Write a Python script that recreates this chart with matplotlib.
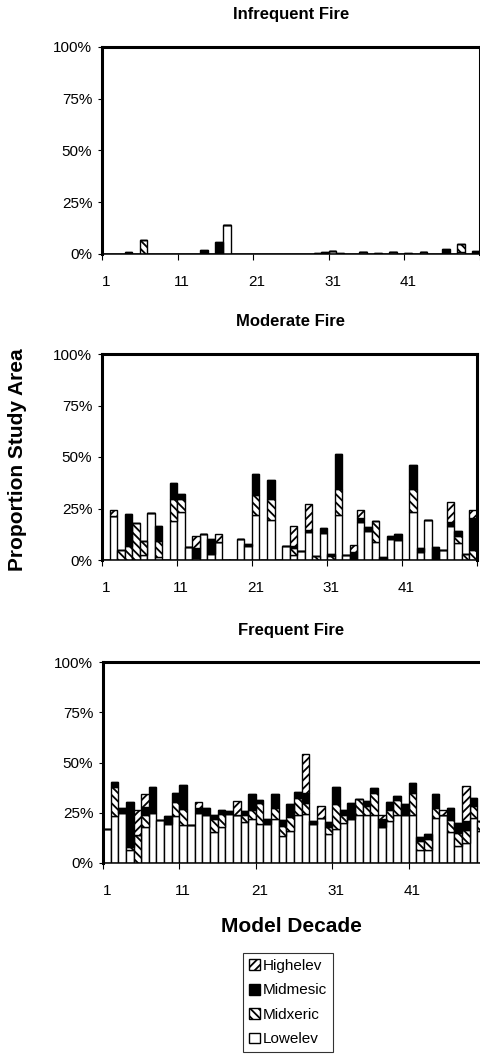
import matplotlib
matplotlib.use("Agg")
import matplotlib.pyplot as plt
from matplotlib.patches import Patch
import numpy as np

plt.rcParams['font.family'] = ['Liberation Sans', 'DejaVu Sans']
plt.rcParams['hatch.linewidth'] = 1.3

# model decades 1..50
decades = list(range(1, 51))
tick_labels = ['1', '11', '21', '31', '41']
y_ticks = [0, 25, 50, 75, 100]
y_labels = ['0%', '25%', '50%', '75%', '100%']
series = ['Lowelev', 'Midxeric', 'Midmesic', 'Highelev']
titles = ['Infrequent Fire', 'Moderate Fire', 'Frequent Fire']

# ---- Infrequent fire (percent of study area)
infreq_low = [0, 0, 0, 0, 0, 0, 0, 0, 0, 0, 0, 0, 0, 0, 0, 0, 14, 0, 0, 0,
              0, 0, 0, 0, 0, 0, 0, 0, 0, 0, 1.3, 0, 0, 0, 1.0, 0, 0, 0, 1.0, 0,
              0, 0, 1.0, 0, 0, 0, 0, 0.8, 0, 0]
infreq_midx = [0, 0, 0, 0, 0, 7, 0, 0, 0, 0, 0, 0, 0, 0, 0, 0, 0, 0, 0, 0,
               0, 0, 0, 0, 0, 0, 0, 0, 0, 0, 0, 0, 0, 0, 0, 0, 0, 0, 0, 0,
               0, 0, 0, 0, 0, 0, 0, 3.8, 0, 0]
infreq_midm = [0, 0, 0, 1.2, 0, 0, 0, 0, 0, 0, 0, 0, 0, 1.8, 0, 6, 0, 0, 0, 0,
               0, 0, 0, 0, 0, 0, 0, 0, 0.5, 0.8, 0.3, 0.5, 0, 0, 0, 0, 0.7, 0, 0, 0,
               0.7, 0, 0, 0, 0, 2.2, 0, 0, 0, 1.5]
infreq_high = [0] * 50

# ---- Moderate fire
mod_low = [0, 21.5, 0, 0, 0, 2.5, 23, 1.5, 0, 19, 23.3, 6.5, 1, 12.5, 3, 8.5, 0, 0, 10.4, 6.8,
           22, 0, 19.4, 0, 6.7, 2.5, 4.2, 13.5, 0, 13.3, 0, 21.8, 2.5, 0, 18.5, 14.2, 8.6, 0, 10.3, 9.7,
           0, 23.3, 4, 19.2, 0, 4.9, 16.3, 8.4, 0, 0]
mod_midx = [0, 0, 5, 7, 18, 6.5, 0, 7.5, 0, 10.5, 6.2, 0, 0, 0, 0, 0, 0, 0, 0, 0,
            9.5, 0, 10, 0, 0, 3.5, 0, 0, 2, 0, 2, 12.8, 0, 0, 0, 0, 10.5, 0, 0, 0,
            0, 11, 0, 0, 0, 0, 0, 3.4, 2.9, 4.8]
mod_midm = [0, 0, 0, 15.3, 0, 0, 0, 7.5, 0, 8, 2.5, 0, 5, 0, 7.2, 0, 0, 0, 0, 1,
            10.3, 0, 9.2, 0, 0, 1, 0, 1, 0, 2, 1, 16.8, 0, 3.7, 2, 1.6, 0, 1.3, 1.3, 2.9,
            0, 11.6, 1.8, 0, 6.4, 0, 2.3, 2.4, 0, 15.5]
mod_high = [0, 3, 0, 0, 0, 0, 0, 0, 0, 0, 0, 0, 5.5, 0, 0, 4, 0, 0, 0, 0,
            0, 0, 0, 0, 0, 9.5, 0, 12.5, 0, 0, 0, 0, 0, 3.5, 4, 0, 0, 0, 0, 0,
            0, 0, 0, 0, 0, 0, 9.5, 0, 0, 4]

# ---- Frequent fire
freq_low = [16.7, 23.3, 24.7, 6.7, 0, 18, 24.7, 21.3, 19.2, 23.3, 18.7, 18.7, 24.7, 23.7, 15.3, 17.8, 24.2, 23.7, 20.3, 21.7,
            19.2, 19.2, 21.7, 13.3, 15.8, 23.7, 24.2, 19.2, 22.2, 14.5, 17, 20, 21.7, 23.7, 23.7, 23.7, 18, 20.8, 23.7, 23.7,
            23.7, 6.3, 6.3, 22.2, 23.7, 15.3, 8.7, 10, 22.2, 15.8]
freq_midx = [0, 14.5, 0, 1.3, 14, 6, 0, 0, 0, 7, 8, 0, 0, 0, 6.7, 6.8, 0, 0, 3.8, 4.7,
             10.8, 0, 5.8, 5.3, 7.2, 8.8, 5.8, 0, 0, 3.5, 12.2, 3.7, 0, 8, 4.7, 11, 0, 5.8, 7.5, 0,
             11, 4.5, 5.7, 5, 0, 6.3, 6.3, 6.3, 6.2, 5]
freq_midm = [0, 2.5, 2.8, 22.3, 0, 4, 13.3, 0, 4.2, 4.3, 12, 0, 2.5, 3.8, 1.7, 2, 1.6, 0, 1.7, 7.8,
             1.2, 2.5, 7, 2.7, 6.2, 2.8, 4.7, 1.7, 0, 2.3, 8.7, 2.7, 8.3, 0, 2.2, 2.8, 3.7, 3.7, 2.2, 5.5,
             5.3, 2.2, 2.2, 7, 0, 5.8, 5, 4.5, 3.8, 0]
freq_high = [0, 0, 0, 0, 12.5, 6.5, 0, 0, 0, 0, 0, 0, 3, 0, 0, 0, 0, 7.2, 0, 0,
             0, 0, 0, 0, 0, 0, 19.5, 0, 6.2, 0, 0, 0, 0, 0, 0, 0, 2, 0, 0, 0,
             0, 0, 0, 0, 2.5, 0, 0, 17.5, 0, 0]

panels = [
    (infreq_low, infreq_midx, infreq_midm, infreq_high),
    (mod_low, mod_midx, mod_midm, mod_high),
    (freq_low, freq_midx, freq_midm, freq_high),
]

styles = {
    'Lowelev': dict(facecolor='white', hatch=None),
    'Midxeric': dict(facecolor='white', hatch='\\\\\\\\'),
    'Midmesic': dict(facecolor='black', hatch=None),
    'Highelev': dict(facecolor='white', hatch='////'),
}

W, H = 481, 1059
fig = plt.figure(figsize=(W / 100, H / 100), dpi=100)

def px_axes(l, t, r, b):
    return fig.add_axes([l / W, 1 - b / H, (r - l) / W, (b - t) / H])

# pixel boxes of the three plot areas (left, top, right, bottom)
boxes = [(102, 47, 480, 254), (102, 354, 477, 560), (103, 662, 485, 863)]
title_y = [14, 322, 630]

for i, (vals, box) in enumerate(zip(panels, boxes)):
    ax = px_axes(*box)
    bottom = np.zeros(len(decades))
    for name, v in zip(series, vals):
        v = np.array(v, dtype=float)
        ax.bar(decades, v, width=1.0, bottom=bottom, edgecolor='black',
               linewidth=1.0, **styles[name])
        bottom += v
    ax.set_xlim(0.5, 50.5)
    ax.set_ylim(0, 100)
    ax.set_yticks(y_ticks)
    ax.set_yticklabels(y_labels, fontsize=11)
    ax.set_xticks([1, 11, 21, 31, 41])
    ax.set_xticklabels(tick_labels, fontsize=11)
    ax.set_xticks([0.5, 10.5, 20.5, 30.5, 40.5, 50.5], minor=True)
    ax.tick_params(axis='x', which='major', length=0, pad=15)
    ax.tick_params(axis='x', which='minor', length=4, width=0.8, direction='out')
    ax.tick_params(axis='y', length=3, width=0.8, direction='out', pad=4)
    for s in ['top', 'left', 'right']:
        ax.spines[s].set_linewidth(2.2)
    ax.spines['bottom'].set_linewidth(1.1)
    fig.text((box[0] + 480) / 2 / W, 1 - title_y[i] / H, titles[i],
             ha='center', va='center', fontsize=12, fontweight='bold')

fig.text(18 / W, 1 - 460 / H, 'Proportion Study Area', rotation=90,
         ha='center', va='center', fontsize=15, fontweight='bold')
fig.text(291 / W, 1 - 927 / H, 'Model Decade', ha='center', va='center',
         fontsize=15, fontweight='bold')

handles = [Patch(edgecolor='black', linewidth=1.0, label=n, **styles[n])
           for n in ['Highelev', 'Midmesic', 'Midxeric', 'Lowelev']]
leg = fig.legend(handles=handles, loc='upper left',
                 bbox_to_anchor=(243 / W, 1 - 953 / H), fontsize=11,
                 frameon=True, fancybox=False, edgecolor='black',
                 handlelength=0.7, handleheight=0.7, handletextpad=0.2,
                 labelspacing=0.68, borderpad=0.4, borderaxespad=0)
leg.get_frame().set_linewidth(0.8)

fig.savefig('out.png', dpi=100)
